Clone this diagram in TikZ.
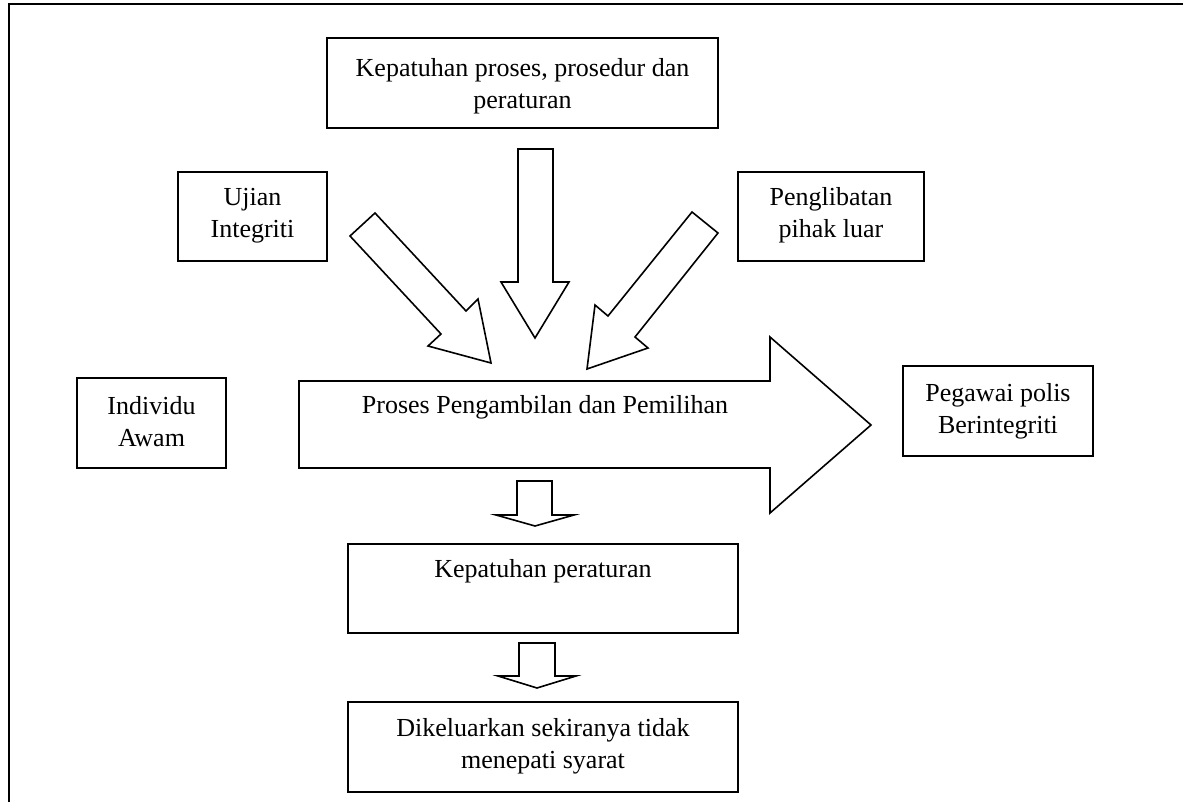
\documentclass[tikz,border=0pt]{standalone}
\usepackage{fontspec}
\setmainfont{Liberation Serif}
\begin{document}
\begin{tikzpicture}[x=1pt,y=-1pt,
  box/.style={draw=black, line width=1.6pt, inner sep=0pt},
  txt/.style={align=center, inner sep=0pt, font=\fontsize{26}{32}\selectfont},
  blockarrow/.style={draw=black, line width=1.6pt, line join=miter, fill=white}]
\useasboundingbox (0,0) rectangle (1183,802);
\draw[line width=2.2pt] (1183,4) -- (9,4) -- (9,802);

% boxes
\node[box, minimum width=391pt, minimum height=90pt] (top) at (522.5,83) {};
\node[txt] (toptxt) at (522.5,86) {Kepatuhan proses, prosedur dan\\peraturan};
\node[box, minimum width=149pt, minimum height=89pt] (ujian) at (252.5,216.5) {};
\node[txt] at ([yshift=1pt]ujian.center) {Ujian\\Integriti};
\node[box, minimum width=186pt, minimum height=89pt] (luar) at (831,216.5) {};
\node[txt] at ([yshift=1pt]luar.center) {Penglibatan\\pihak luar};
\node[box, minimum width=149pt, minimum height=90pt] (awam) at (151.5,423) {};
\node[txt] at ([yshift=1pt]awam.center) {Individu\\Awam};
\node[box, minimum width=190pt, minimum height=90pt] (polis) at (998,411) {};
\node[txt] at (polis.center) {Pegawai polis\\Berintegriti};
\node[box, minimum width=390pt, minimum height=89pt] (patuh) at (543,588.5) {};
\node[txt, anchor=center] at (543,571) {Kepatuhan peraturan};
\node[box, minimum width=390pt, minimum height=90pt] (keluar) at (543,747) {};
\node[txt] at (543,746) {Dikeluarkan sekiranya tidak\\menepati syarat};

% big right arrow
\draw[blockarrow] (299,381) -- (770,381) -- (770,337) -- (871,425) -- (770,513) -- (770,468) -- (299,468) -- cycle;
\node[txt] (proses) at (545,407) {Proses Pengambilan dan Pemilihan};

% central down arrow
\draw[blockarrow] (518,149) -- (553,149) -- (553,282) -- (569,282) -- (535,338) -- (501,282) -- (518,282) -- cycle;

% left diagonal arrow
\draw[blockarrow] (375,213) -- (466,311) -- (478,299) -- (491,363) -- (428,346) -- (441,334) -- (350,236) -- cycle;

% right diagonal arrow
\draw[blockarrow] (692,212) -- (718,233) -- (635,337) -- (648,348) -- (587,369) -- (595,305) -- (608,316) -- cycle;

% small down arrows
\draw[blockarrow] (517,481) -- (552,481) -- (552,515) -- (574,515) -- (535,526) -- (496,515) -- (517,515) -- cycle;
\draw[blockarrow] (519,643) -- (555,643) -- (555,676) -- (576,676) -- (537,688) -- (498,676) -- (519,676) -- cycle;
\end{tikzpicture}
\end{document}
